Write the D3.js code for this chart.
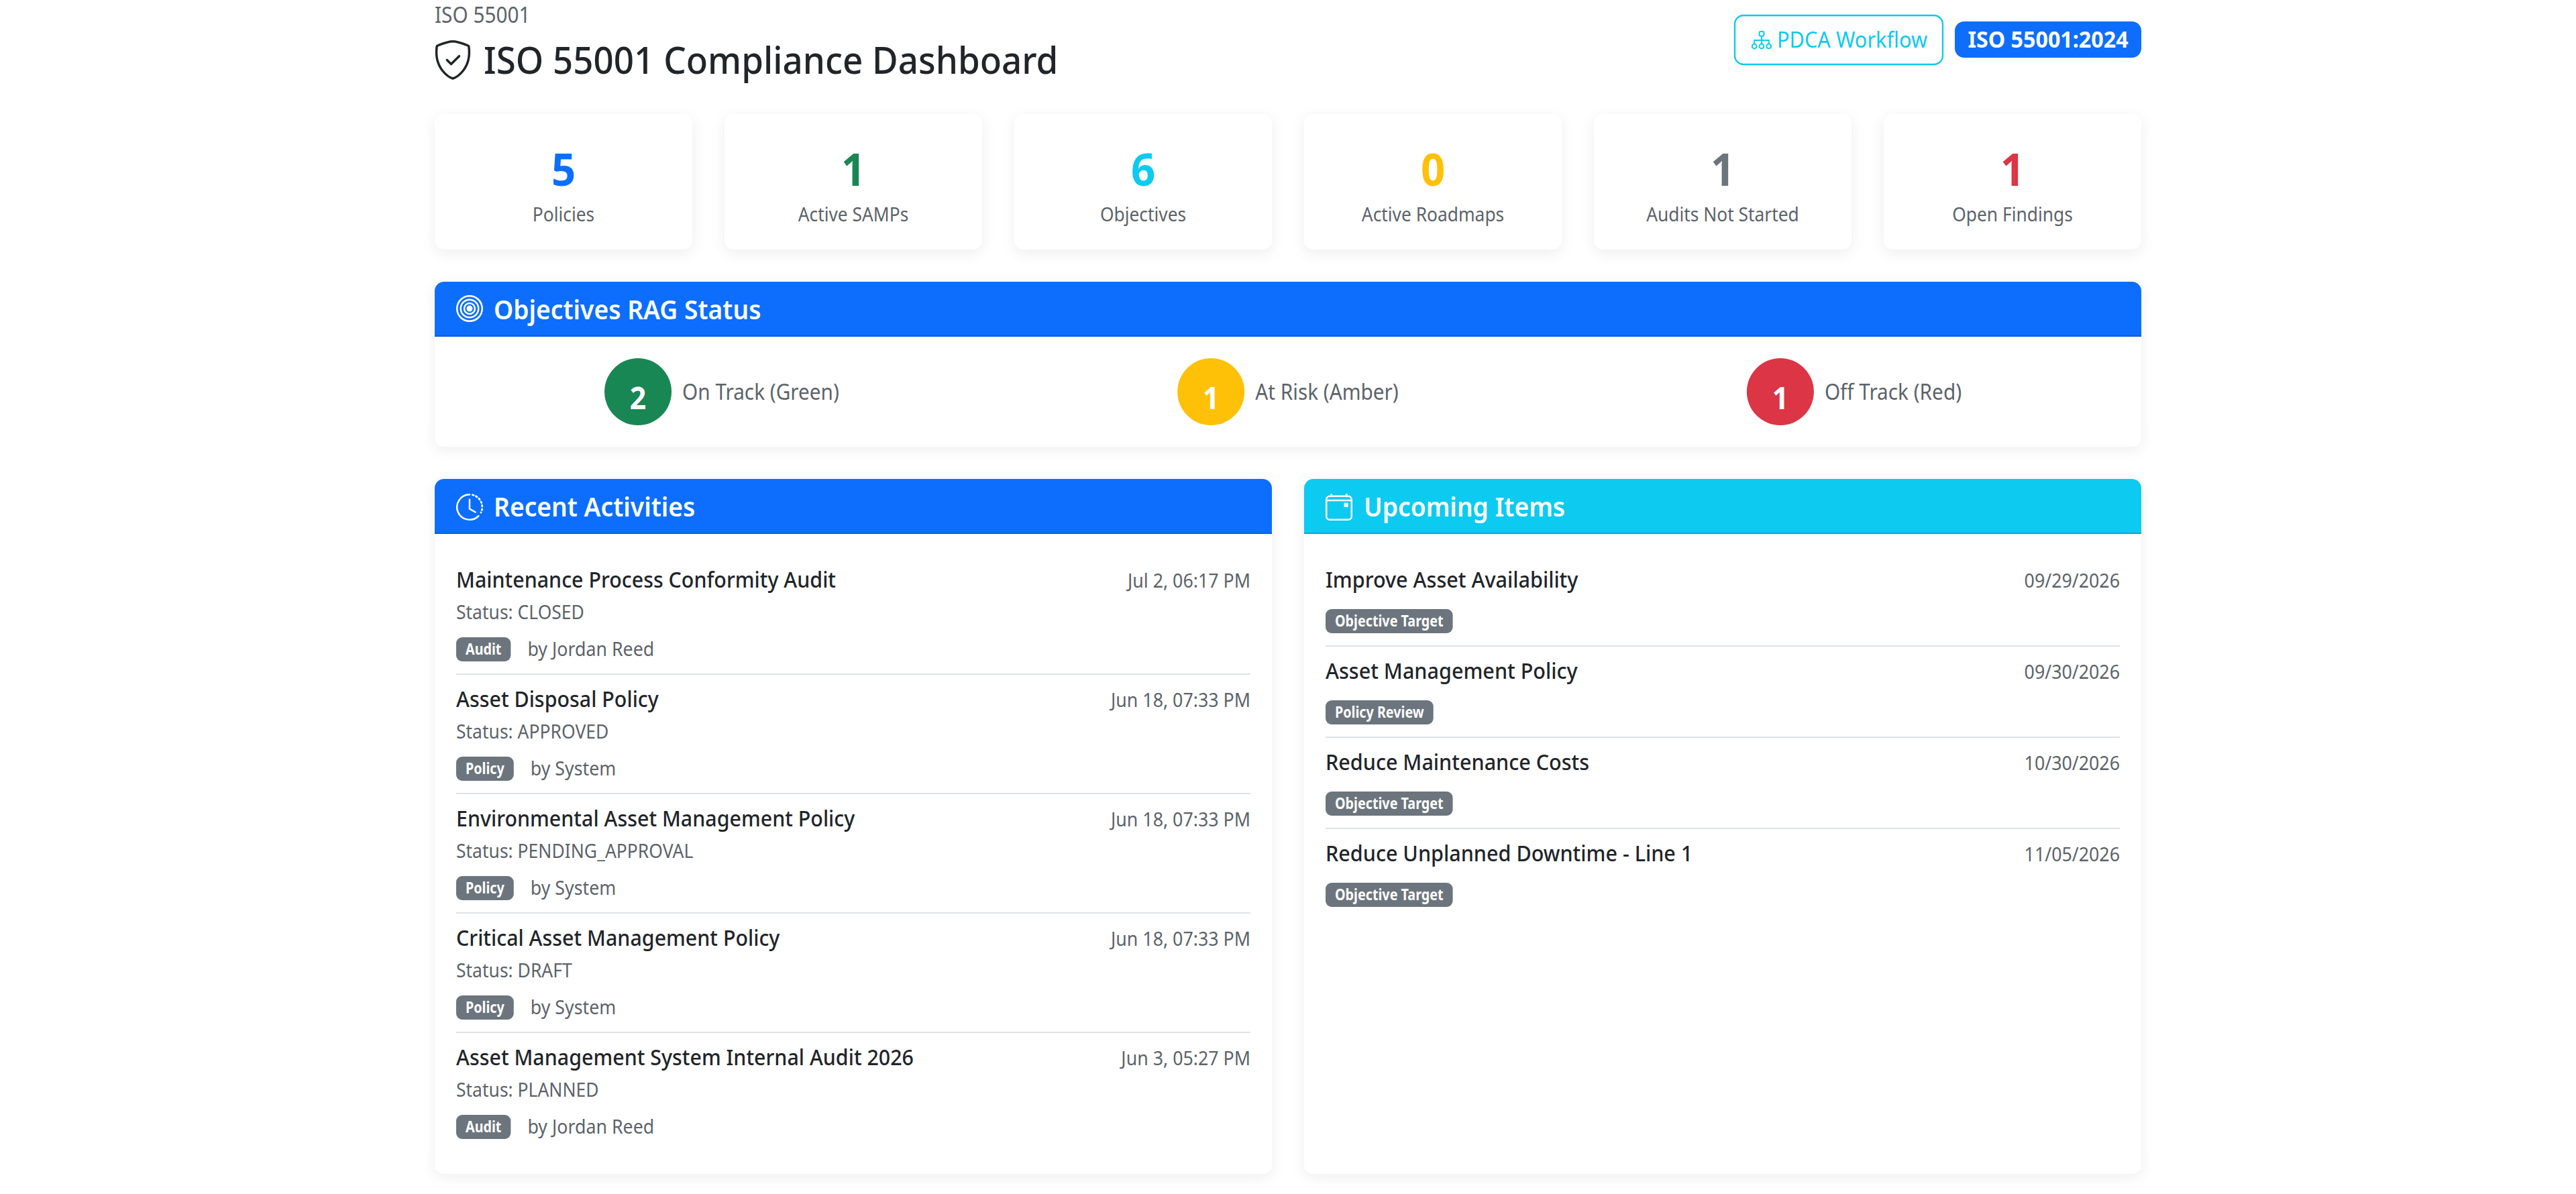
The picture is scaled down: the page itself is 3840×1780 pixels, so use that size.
<!DOCTYPE html>
<html>
<head>
<meta charset="utf-8">
<script src="https://cdn.jsdelivr.net/npm/d3@7"></script>
<style>
  html, body { margin: 0; background: #fff; }
  svg { display: block; }
  text { font-family: "Noto Sans", "Open Sans", sans-serif; }
  .card { filter: drop-shadow(0 5px 10px rgba(0,0,0,.065)); }
</style>
</head>
<body>
<svg id="chart" width="3840" height="1780"></svg>
<script>
// stat cards
const statLabels = ["Policies", "Active SAMPs", "Objectives", "Active Roadmaps", "Audits Not Started", "Open Findings"];
const statValues = [5, 1, 6, 0, 1, 1];
const statColors = ["#0d6efd", "#198754", "#0dcaf0", "#ffc107", "#6c757d", "#dc3545"];

// RAG status
const ragLabels = ["On Track (Green)", "At Risk (Amber)", "Off Track (Red)"];
const ragValues = [2, 1, 1];
const ragColors = ["#198754", "#ffc107", "#dc3545"];

// recent activities
const activityTitles = ["Maintenance Process Conformity Audit", "Asset Disposal Policy", "Environmental Asset Management Policy", "Critical Asset Management Policy", "Asset Management System Internal Audit 2026"];
const activityStatus = ["CLOSED", "APPROVED", "PENDING_APPROVAL", "DRAFT", "PLANNED"];
const activityTypes = ["Audit", "Policy", "Policy", "Policy", "Audit"];
const activityUsers = ["Jordan Reed", "System", "System", "System", "Jordan Reed"];
const activityTimes = ["Jul 2, 06:17 PM", "Jun 18, 07:33 PM", "Jun 18, 07:33 PM", "Jun 18, 07:33 PM", "Jun 3, 05:27 PM"];

// upcoming items
const upcomingTitles = ["Improve Asset Availability", "Asset Management Policy", "Reduce Maintenance Costs", "Reduce Unplanned Downtime - Line 1"];
const upcomingTypes = ["Objective Target", "Policy Review", "Objective Target", "Objective Target"];
const upcomingDates = ["09/29/2026", "09/30/2026", "10/30/2026", "11/05/2026"];

const svg = d3.select("#chart");
const LEFT = 648, RIGHT = 3192;
const GREY = "#5c636a", DARK = "#212529";

// text helper, squeeze is a horizontal scale because Noto is wider than the original face
function label(g, x, y, str, size, opts) {
  const o = Object.assign({ weight: 400, fill: DARK, anchor: "start", squeeze: 0.93 }, opts);
  return g.append("text")
    .attr("transform", `translate(${x},${y}) scale(${o.squeeze},1)`)
    .attr("font-size", size)
    .attr("font-weight", o.weight)
    .attr("fill", o.fill)
    .attr("text-anchor", o.anchor)
    .text(str);
}

function topRounded(x0, x1, y0, y1, r) {
  const p = d3.path();
  p.moveTo(x0, y1);
  p.lineTo(x0, y0 + r);
  p.arcTo(x0, y0, x0 + r, y0, r);
  p.lineTo(x1 - r, y0);
  p.arcTo(x1, y0, x1, y0 + r, r);
  p.lineTo(x1, y1);
  p.closePath();
  return p.toString();
}

// icons are drawn in the 16 unit grid the original icon font uses
function icon(x, y, size, color) {
  return svg.append("g")
    .attr("transform", `translate(${x},${y}) scale(${size / 16})`)
    .attr("fill", "none").attr("stroke", color).attr("stroke-width", 1);
}

// ---- page title
label(svg, LEFT, 33.5, "ISO 55001", 32, { fill: GREY });
label(svg, 721, 110, "ISO 55001 Compliance Dashboard", 56, { weight: 500, squeeze: 0.945 });

const shield = icon(642, 56, 66, DARK).attr("stroke-width", 0.85).attr("stroke-linecap", "round").attr("stroke-linejoin", "round");
shield.append("path").attr("d", "M8 1.4c1.3 0 4 .9 5.3 1.4.3.1.5.3.5.6.5 3.9-.6 6.7-2.1 8.6-1.2 1.5-2.7 2.5-3.7 2.8-1-.3-2.5-1.3-3.7-2.8-1.5-1.9-2.6-4.7-2.1-8.6 0-.3.2-.5.5-.6C4 2.3 6.7 1.4 8 1.4z");
shield.append("path").attr("d", "M5.9 8.1l1.5 1.5 2.9-2.9");

// PDCA button and standard badge
svg.append("rect").attr("x", 2586).attr("y", 23).attr("width", 310).attr("height", 73).attr("rx", 13)
  .attr("fill", "#fff").attr("stroke", "#0dcaf0").attr("stroke-width", 2.4);
const tree = icon(2610, 44, 32, "#0dcaf0").attr("stroke-width", 1);
tree.append("rect").attr("x", 6.3).attr("y", 1.5).attr("width", 3.4).attr("height", 3.4).attr("rx", 1);
tree.append("path").attr("d", "M8 4.9V8M2.6 10.7V8H13.4V10.7M8 8V10.7");
[2.6, 8, 13.4].forEach(c => tree.append("circle").attr("cx", c).attr("cy", 12.5).attr("r", 1.7));
label(svg, 2649, 71, "PDCA Workflow", 33, { fill: "#0dcaf0" });

svg.append("rect").attr("x", 2914).attr("y", 32).attr("width", 278).attr("height", 54).attr("rx", 14).attr("fill", "#0d6efd");
label(svg, 3053, 71, "ISO 55001:2024", 33.6, { fill: "#fff", weight: 700, anchor: "middle", squeeze: 0.96 });

// ---- stat cards
const statX = d3.scaleBand().domain(statLabels).range([LEFT, RIGHT]).paddingInner(48 / 432);
const stats = svg.selectAll("g.stat").data(statLabels).join("g").attr("class", "stat");
stats.append("rect").attr("class", "card")
  .attr("x", d => statX(d)).attr("y", 170)
  .attr("width", statX.bandwidth()).attr("height", 202).attr("rx", 14).attr("fill", "#fff");
stats.each(function (d, i) {
  const g = d3.select(this), cx = statX(d) + statX.bandwidth() / 2;
  label(g, cx, 276.5, statValues[i], 66, { weight: 700, fill: statColors[i], anchor: "middle", squeeze: 0.96 });
  label(g, cx, 329.5, d, 28.8, { fill: GREY, anchor: "middle", squeeze: 0.915 });
});

// ---- panels
function panel(x0, x1, y0, y1, color, edge, title, textX) {
  svg.append("rect").attr("class", "card").attr("x", x0).attr("y", y0)
    .attr("width", x1 - x0).attr("height", y1 - y0).attr("rx", 14).attr("fill", "#fff");
  svg.append("path").attr("d", topRounded(x0, x1, y0, y0 + 82, 14)).attr("fill", color);
  svg.append("rect").attr("x", x0).attr("y", y0 + 80).attr("width", x1 - x0).attr("height", 2).attr("fill", edge);
  label(svg, textX, y0 + 56, title, 40, { weight: 600, fill: "#fff" });
}
panel(LEFT, RIGHT, 420, 666, "#0d6efd", "#0b5ed7", "Objectives RAG Status", 736);
panel(LEFT, 1896, 714, 1750, "#0d6efd", "#0b5ed7", "Recent Activities", 736);
panel(1944, RIGHT, 714, 1750, "#0dcaf0", "#0aa9c9", "Upcoming Items", 2033);

const target = icon(680, 440, 40, "#fff").attr("stroke-width", 1);
[7.5, 5.3, 3.2].forEach(r => target.append("circle").attr("cx", 8).attr("cy", 8).attr("r", r));
target.append("circle").attr("cx", 8).attr("cy", 8).attr("r", 1.8).attr("fill", "#fff").attr("stroke", "none");

const clock = icon(680, 736, 40, "#fff").attr("stroke-linecap", "round");
clock.append("path").attr("d", "M8 .5A7.5 7.5 0 1 0 13.3 13.3");
clock.append("path").attr("d", "M9.8 .7A7.5 7.5 0 0 1 14.8 11.2").attr("stroke-dasharray", "0.7 1.5").attr("stroke-width", 1.1);
clock.append("path").attr("d", "M8 3.5V9L11.5 11");

const cal = icon(1976, 736, 40, "#fff");
cal.append("rect").attr("x", 0.5).attr("y", 1.5).attr("width", 15).attr("height", 14).attr("rx", 2);
cal.append("path").attr("d", "M.5 4H15.5M3.5 0V1.5M12.5 0V1.5");
cal.append("rect").attr("x", 11).attr("y", 5.5).attr("width", 2.5).attr("height", 2.5).attr("fill", "#fff").attr("stroke", "none");

// ---- RAG row
const ragX = d3.scaleBand().domain(ragLabels).range([LEFT + 6, RIGHT - 6]);
svg.selectAll("g.rag").data(ragLabels).join("g").attr("class", "rag").each(function (d, i) {
  const g = d3.select(this);
  const text = label(g, 0, 596, d, 32, { fill: GREY });
  const tw = text.node().getComputedTextLength() * 0.93;
  const x0 = ragX(d) + ragX.bandwidth() / 2 - (100 + 16 + tw) / 2;
  text.attr("transform", `translate(${x0 + 116},596) scale(0.93,1)`);
  g.append("circle").attr("cx", x0 + 50).attr("cy", 584).attr("r", 50).attr("fill", ragColors[i]);
  label(g, x0 + 50, 610, ragValues[i], 46, { weight: 700, fill: "#fff", anchor: "middle" });
});

// ---- list rows
function badge(g, x, y, str) {
  const b = g.append("rect").attr("x", x).attr("y", y).attr("height", 36).attr("rx", 9).attr("fill", "#6c757d");
  const t = label(g, x + 14, y + 26, str, 23.5, { weight: 700, fill: "#fff", squeeze: 0.84 });
  const w = t.node().getComputedTextLength() * 0.84 + 28;
  b.attr("width", w);
  return x + w;
}

const activityY = d3.scaleBand().domain(activityTitles).range([827, 827 + 178 * activityTitles.length]);
svg.selectAll("g.activity").data(activityTitles).join("g").attr("class", "activity").each(function (d, i) {
  const g = d3.select(this), y = activityY(d);
  label(g, 680, y + 49, d, 32, { weight: 500, squeeze: 0.95 });
  label(g, 1864, y + 49, activityTimes[i], 28.8, { fill: GREY, anchor: "end" });
  label(g, 680, y + 96, "Status: " + activityStatus[i], 28.8, { fill: GREY, squeeze: 0.92 });
  const end = badge(g, 680, y + 123, activityTypes[i]);
  label(g, end + 25, y + 151, "by " + activityUsers[i], 28.8, { fill: GREY });
  if (i < activityTitles.length - 1)
    g.append("rect").attr("x", 680).attr("y", y + activityY.bandwidth() - 1).attr("width", 1184).attr("height", 2).attr("fill", "#dee2e6");
});

const upcomingY = d3.scaleBand().domain(upcomingTitles).range([827, 827 + 136 * upcomingTitles.length]);
svg.selectAll("g.upcoming").data(upcomingTitles).join("g").attr("class", "upcoming").each(function (d, i) {
  const g = d3.select(this), y = upcomingY(d);
  label(g, 1976, y + 49, d, 32, { weight: 500, squeeze: 0.955 });
  label(g, 3160, y + 49, upcomingDates[i], 28.8, { fill: GREY, anchor: "end" });
  badge(g, 1976, y + 81, upcomingTypes[i]);
  if (i < upcomingTitles.length - 1)
    g.append("rect").attr("x", 1976).attr("y", y + upcomingY.bandwidth() - 1).attr("width", 1184).attr("height", 2).attr("fill", "#dee2e6");
});
</script>
</body>
</html>
